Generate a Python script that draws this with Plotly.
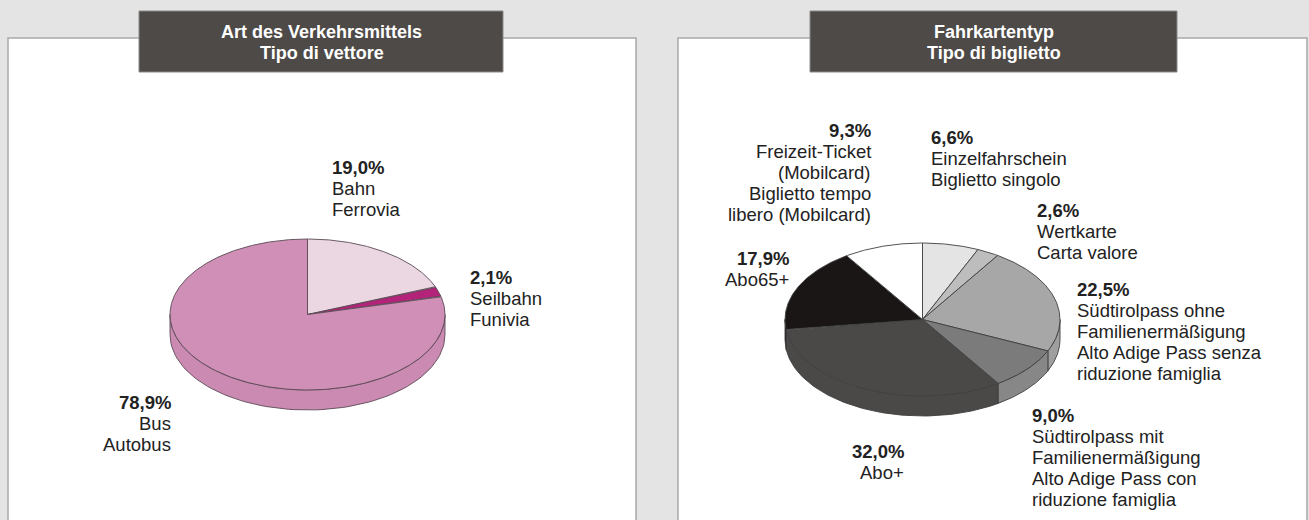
import numpy as np
import plotly.graph_objects as go

# ---------------- data ----------------
mode_title = ["Art des Verkehrsmittels", "Tipo di vettore"]
mode_names = [["Bahn", "Ferrovia"], ["Seilbahn", "Funivia"], ["Bus", "Autobus"]]
mode_values = [19.0, 2.1, 78.9]

ticket_title = ["Fahrkartentyp", "Tipo di biglietto"]
ticket_names = [
    ["Einzelfahrschein", "Biglietto singolo"],
    ["Wertkarte", "Carta valore"],
    ["Südtirolpass ohne", "Familienermäßigung", "Alto Adige Pass senza", "riduzione famiglia"],
    ["Südtirolpass mit", "Familienermäßigung", "Alto Adige Pass con", "riduzione famiglia"],
    ["Abo+"],
    ["Abo65+"],
    ["Freizeit-Ticket", "(Mobilcard)", "Biglietto tempo", "libero (Mobilcard)"],
]
ticket_values = [6.6, 2.6, 22.5, 9.0, 32.0, 17.9, 9.3]

# ---------------- styles ----------------
mode_top = ["#ead7e2", "#b3237a", "#cf8fb6"]
mode_side = ["#e2ccd9", "#a01f6c", "#cb8ab2"]
ticket_top = ["#e4e4e4", "#bdbdbd", "#a7a7a7", "#7b7b7b", "#4b4848", "#1a1616", "#ffffff"]
ticket_side = ["#dcdcdc", "#b5b5b5", "#9f9f9f", "#878787", "#4b4848", "#1a1616", "#f4f4f4"]

# label layout: (x, first-line y, anchor)
mode_label_pos = [(330, 167, "left"), (468, 277, "left"), (173, 402, "right")]
ticket_label_pos = [(929, 137, "left"), (1035, 210, "left"), (1075, 289, "left"),
                    (1030, 415, "left"), (906, 451, "right"), (791, 258, "right"),
                    (873, 130, "right")]

BG = "#e4e4e4"
EDGE = "#3f3f3f"
FONT = "Liberation Sans, Arial, Helvetica, sans-serif"
FS = 18.5
LH = 21

fig = go.Figure()


def pct(v):
    return f"{v:.1f}".replace(".", ",") + "%"


def add_pie3d(values, top_cols, side_cols, cx, cy, rx, ry, depth, edge):
    v = np.asarray(values, float)
    bounds = np.concatenate([[0.0], np.cumsum(v)]) / v.sum() * 360.0
    # visible side walls (front half of the ellipse)
    for i in range(len(v)):
        s, e = max(bounds[i], 90.0), min(bounds[i + 1], 270.0)
        if e > s:
            t = np.radians(np.linspace(s, e, 80))
            xs = cx + rx * np.sin(t)
            ys = cy - ry * np.cos(t)
            x = np.concatenate([xs, xs[::-1], xs[:1]])
            y = np.concatenate([ys, ys[::-1] + depth, ys[:1]])
            fig.add_trace(go.Scatter(x=x, y=y, mode="lines", fill="toself",
                                     fillcolor=side_cols[i],
                                     line=dict(color=edge, width=0.9),
                                     hoverinfo="skip", showlegend=False))
    # top faces
    for i in range(len(v)):
        a0, a1 = bounds[i], bounds[i + 1]
        n = max(int((a1 - a0) * 2), 6)
        t = np.radians(np.linspace(a0, a1, n))
        xs = cx + rx * np.sin(t)
        ys = cy - ry * np.cos(t)
        x = np.concatenate([[cx], xs, [cx]])
        y = np.concatenate([[cy], ys, [cy]])
        fig.add_trace(go.Scatter(x=x, y=y, mode="lines", fill="toself",
                                 fillcolor=top_cols[i],
                                 line=dict(color=edge, width=0.9),
                                 hoverinfo="skip", showlegend=False))


add_pie3d(mode_values, mode_top, mode_side, 307.5, 314.5, 137.5, 75.5, 20, "#5a4a55")
add_pie3d(ticket_values, ticket_top, ticket_side, 922.5, 319.5, 137.5, 76.5, 20, EDGE)

annotations = []


def add_text_line(text, x, y, anchor, size, color):
    annotations.append(dict(
        x=x, y=y, xref="x", yref="y", text=text, showarrow=False,
        xanchor=anchor, yanchor="middle", align=anchor,
        font=dict(family=FONT, size=size, color=color)))


def add_labels(names, values, positions):
    for lines, val, (x, y0, anchor) in zip(names, values, positions):
        all_lines = [f"<b>{pct(val)}</b>"] + list(lines)
        for k, line in enumerate(all_lines):
            add_text_line(line, x, y0 + k * LH, anchor, FS, "#222222")


add_labels(mode_names, mode_values, mode_label_pos)
add_labels(ticket_names, ticket_values, ticket_label_pos)

# titles
for title, xc in [(mode_title, 321.5), (ticket_title, 993.5)]:
    for k, line in enumerate(title):
        add_text_line(f"<b>{line}</b>", xc, 31.5 + k * 21, "center", 18, "#ffffff")

shapes = [
    # panels
    dict(type="rect", xref="x", yref="y", x0=8, x1=636, y0=38, y1=540,
         fillcolor="#ffffff", line=dict(color="#a9a9a9", width=1.5), layer="below"),
    dict(type="rect", xref="x", yref="y", x0=678, x1=1307, y0=38, y1=540,
         fillcolor="#ffffff", line=dict(color="#a9a9a9", width=1.5), layer="below"),
    # title boxes
    dict(type="rect", xref="x", yref="y", x0=139, x1=503, y0=11, y1=72,
         fillcolor="#4e4a48", line=dict(color="#8a8a8a", width=1), layer="below"),
    dict(type="rect", xref="x", yref="y", x0=810, x1=1177, y0=11, y1=72,
         fillcolor="#4e4a48", line=dict(color="#8a8a8a", width=1), layer="below"),
]

fig.update_layout(
    width=1309, height=520,
    margin=dict(l=0, r=0, t=0, b=0),
    paper_bgcolor=BG, plot_bgcolor=BG,
    xaxis=dict(range=[0, 1309], visible=False, fixedrange=True),
    yaxis=dict(range=[520, 0], visible=False, fixedrange=True),
    shapes=shapes, annotations=annotations, showlegend=False,
)

fig.write_html("out.html", config={"displayModeBar": False},
               post_script="document.body.style.margin='0';document.body.style.background='#e4e4e4';")
